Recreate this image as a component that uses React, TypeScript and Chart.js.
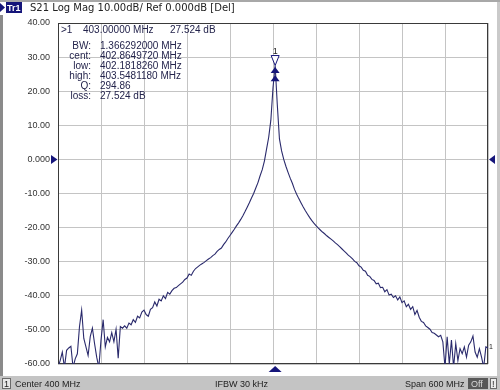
import React, { useEffect, useRef } from "react";
import { Chart, registerables } from "chart.js";

Chart.register(...registerables);

// Sweep definition (instrument settings)
const START_MHZ = 100;
const STOP_MHZ = 700;
const STEP_MHZ = 3;

// S21 trace, dB, one value per sweep point (201 points)
const TRACE_DB = [
  -61, -59, -56.5, -61, -56, -55.3, -54.8, -61, -58.5, -57,
  -49, -44.2, -52.5, -55, -57.5, -52, -49.5, -54, -58, -61,
  -53, -47, -55, -52.2, -53.5, -50.8, -53.5, -49.8, -58.3, -49,
  -49.5, -48.8, -49.5, -48, -48.5, -47, -47.8, -46, -46.5, -44.8,
  -44.2, -45.5, -46, -44, -43.5, -41.8, -43, -41, -41.5, -40,
  -40.8, -39, -39.5, -38.5, -37.8, -37.6, -37, -36.5, -36, -35.2,
  -34.8, -33.6, -34, -32.8, -32, -31.5, -31, -30.6, -30.2, -29.7,
  -29.2, -28.8, -28.2, -27.8, -27, -26.4, -26, -25, -24.2, -23.2,
  -22.3, -21.4, -20.5, -19.5, -18.6, -17.6, -16.5, -15.3, -14, -12.7,
  -11.3, -10, -8.4, -6.8, -4.8, -3, -0.5, 3, 6.5, 11.5,
  21, 27.524, 16, 6, 2.5, 0, -2, -3.8, -5.5, -7,
  -8.8, -10.2, -11.5, -12.7, -13.9, -15, -16, -17, -17.9, -18.7,
  -19.4, -20.1, -20.7, -21.3, -21.8, -22.4, -22.9, -23.4, -23.9, -24.5,
  -25, -25.6, -26.2, -26.8, -27.4, -28.1, -28.6, -29.2, -29.9, -30.3,
  -31.2, -31.6, -32.5, -32.8, -34, -34.3, -35.2, -35.5, -36.5, -36.3,
  -37.6, -37.5, -38.8, -38.2, -39.8, -39.5, -40.5, -40, -41.2, -40.3,
  -42, -41.5, -43.2, -42.5, -44, -43.2, -45.5, -44.3, -46.3, -47.5,
  -47.8, -48.8, -49.3, -49.8, -50.8, -51, -51.5, -52, -51.6, -53.5,
  -61, -52, -60, -53, -61, -54, -59, -55.5, -57, -55,
  -58, -54.5, -53.5, -51.8, -56.5, -58, -55.5, -58, -61, -55,
  -55.3,
];

// Scale
const Y_MIN = -60;
const Y_MAX = 40;
const Y_STEP = 10;
const X_STEP = 60;
const REF_DB = 0;

// Markers
const MARKER_FREQ = 403;
const MARKER_DB = 27.524;
const BW_MARKER_DB = [27.1, 24.7];

// Texts
const HEADER_TAG = "Tr1";
const HEADER_TEXT = "S21 Log Mag 10.00dB/ Ref 0.000dB [Del]";
const MARKER_READOUT = [">1", "403.00000 MHz", "27.524 dB"];
const READOUT_LABELS = ["BW:", "cent:", "low:", "high:", "Q:", "loss:"];
const READOUT_VALUES = [
  "1.366292000 MHz",
  "402.8649720 MHz",
  "402.1818260 MHz",
  "403.5481180 MHz",
  "294.86",
  "27.524 dB",
];
const STATUS_LEFT = "Center 400 MHz";
const STATUS_MID = "IFBW 30 kHz";
const STATUS_RIGHT = "Span 600 MHz";

const NAVY = "#15157a";
const TRACE_COLOR = "#2a2a6c";
const FONT = "'Liberation Sans', Arial, sans-serif";
const HEADER_FONT = "'DejaVu Sans', Verdana, sans-serif";

function tri(ctx: CanvasRenderingContext2D, pts: number[][], fill: string | null, stroke?: string) {
  ctx.beginPath();
  ctx.moveTo(pts[0][0], pts[0][1]);
  for (let i = 1; i < pts.length; i++) ctx.lineTo(pts[i][0], pts[i][1]);
  ctx.closePath();
  if (fill) {
    ctx.fillStyle = fill;
    ctx.fill();
  }
  if (stroke) {
    ctx.strokeStyle = stroke;
    ctx.lineWidth = 1;
    ctx.stroke();
  }
}

const screenPlugin = {
  id: "screen",
  beforeDraw(chart: any) {
    const { ctx, width, height } = chart;
    ctx.save();
    ctx.fillStyle = "#ffffff";
    ctx.fillRect(0, 0, width, height);
    ctx.fillStyle = "#a8a8a8";
    ctx.fillRect(0, 0, width, 2);
    ctx.fillStyle = "#8a8a8a";
    ctx.fillRect(0, 15, 3, 361);
    ctx.fillStyle = "#cacaca";
    ctx.fillRect(width - 3, 2, 3, 374);
    ctx.restore();
  },
  beforeDatasetsDraw(chart: any) {
    const { ctx, chartArea } = chart;
    ctx.save();
    ctx.strokeStyle = "#3a3a3a";
    ctx.lineWidth = 1;
    ctx.strokeRect(
      Math.round(chartArea.left) + 0.5,
      Math.round(chartArea.top) + 0.5,
      Math.round(chartArea.right - chartArea.left) - 1,
      Math.round(chartArea.bottom - chartArea.top) - 1
    );
    ctx.restore();
  },
  afterDraw(chart: any) {
    const { ctx, chartArea, width } = chart;
    const xs = chart.scales.x;
    const ys = chart.scales.y;
    ctx.save();

    // Header
    tri(ctx, [[0, 3], [5, 7.5], [0, 12]], NAVY);
    ctx.fillStyle = NAVY;
    ctx.fillRect(6, 2, 16, 11);
    ctx.font = `bold 9px ${FONT}`;
    ctx.fillStyle = "#ffffff";
    ctx.textBaseline = "alphabetic";
    ctx.textAlign = "left";
    ctx.fillText(HEADER_TAG, 7, 11);
    ctx.font = `10px ${HEADER_FONT}`;
    ctx.fillStyle = "#222222";
    ctx.fillText(HEADER_TEXT, 30, 11);

    // Marker readout
    ctx.fillStyle = "#24244c";
    ctx.font = `10px ${FONT}`;
    const top = chartArea.top;
    ctx.fillText(MARKER_READOUT[0], 61, top + 10);
    ctx.fillText(MARKER_READOUT[1], 83, top + 10);
    ctx.fillText(MARKER_READOUT[2], 170, top + 10);
    READOUT_LABELS.forEach((lab, i) => {
      const yb = top + 26 + i * 10;
      ctx.textAlign = "right";
      ctx.fillText(lab, 91, yb);
      ctx.textAlign = "left";
      ctx.fillText(READOUT_VALUES[i], 100, yb);
    });

    // Marker 1 (hollow down triangle) with label
    const mx = xs.getPixelForValue(MARKER_FREQ);
    const my = ys.getPixelForValue(MARKER_DB);
    tri(ctx, [[mx - 4, my - 10], [mx + 4, my - 10], [mx, my]], "#ffffff", NAVY);
    ctx.fillStyle = "#222";
    ctx.font = `9px ${FONT}`;
    ctx.textAlign = "center";
    ctx.fillText("1", mx, my - 12);
    // BW markers
    BW_MARKER_DB.forEach((v) => {
      const ty = ys.getPixelForValue(v);
      tri(ctx, [[mx, ty], [mx - 4.5, ty + 6], [mx + 4.5, ty + 6]], NAVY);
    });
    // Stimulus indicator at bottom
    const b = chartArea.bottom;
    tri(ctx, [[mx, b + 2], [mx - 6.5, b + 8], [mx + 6.5, b + 8]], NAVY);

    // Reference level indicators
    const ry = ys.getPixelForValue(REF_DB);
    tri(ctx, [[51, ry - 4.5], [57.5, ry], [51, ry + 4.5]], NAVY);
    tri(ctx, [[chartArea.right + 1, ry], [chartArea.right + 7, ry - 4.5], [chartArea.right + 7, ry + 4.5]], NAVY);

    // small channel marker at trace end
    ctx.font = `7px ${FONT}`;
    ctx.fillStyle = "#222";
    ctx.textAlign = "left";
    ctx.fillText("1", chartArea.right + 1, ys.getPixelForValue(TRACE_DB[TRACE_DB.length - 1]) + 1);

    // Status bar
    const sy = 376;
    ctx.fillStyle = "#c4c4c4";
    ctx.fillRect(0, sy, width, 390 - sy);
    ctx.fillStyle = "#e8e8e8";
    ctx.fillRect(2, sy + 2, 9, 11);
    ctx.strokeStyle = "#6a6a6a";
    ctx.strokeRect(2.5, sy + 2.5, 8, 10);
    ctx.fillStyle = "#222";
    ctx.font = `9px ${FONT}`;
    ctx.textAlign = "left";
    ctx.fillText("1", 4, sy + 11);
    ctx.fillText(STATUS_LEFT, 15, sy + 11);
    ctx.fillText(STATUS_MID, 215, sy + 11);
    ctx.fillText(STATUS_RIGHT, 405, sy + 11);
    ctx.fillStyle = "#585858";
    ctx.fillRect(468, sy + 2, 20, 11);
    ctx.fillStyle = "#d8d8d8";
    ctx.fillText("Off", 471, sy + 11);
    ctx.fillStyle = "#ececec";
    ctx.fillRect(490, sy + 2, 7, 11);
    ctx.strokeStyle = "#6a6a6a";
    ctx.strokeRect(490.5, sy + 2.5, 6, 10);
    ctx.fillStyle = "#222";
    ctx.fillText("!", 492, sy + 11);

    ctx.restore();
  },
};

export default function App() {
  const ref = useRef<HTMLCanvasElement | null>(null);
  useEffect(() => {
    if (!ref.current) return;
    const points = TRACE_DB.map((v, i) => ({ x: START_MHZ + i * STEP_MHZ, y: v }));
    const chart = new Chart(ref.current, {
      type: "line",
      data: {
        datasets: [
          {
            data: points,
            borderColor: TRACE_COLOR,
            borderWidth: 1.1,
            pointRadius: 0,
            tension: 0,
            fill: false,
          },
        ],
      },
      options: {
        animation: false,
        responsive: false,
        maintainAspectRatio: false,
        devicePixelRatio: 1,
        layout: { padding: { left: 0, top: 23, right: 12, bottom: 26 } },
        plugins: { legend: { display: false }, tooltip: { enabled: false } },
        scales: {
          x: {
            type: "linear",
            min: START_MHZ,
            max: STOP_MHZ,
            ticks: { display: false, stepSize: X_STEP },
            grid: { color: "#c4c4c4", lineWidth: 1, drawTicks: false },
            border: { display: false },
            afterFit: (s: any) => {
              s.height = 0;
            },
          },
          y: {
            min: Y_MIN,
            max: Y_MAX,
            ticks: {
              stepSize: Y_STEP,
              color: "#333333",
              padding: 8,
              font: { family: FONT, size: 9 },
              callback: (v: any) => (Number(v) === 0 ? "0.000" : Number(v).toFixed(2)),
            },
            grid: { color: "#c4c4c4", lineWidth: 1, drawTicks: false },
            border: { display: false },
            afterFit: (s: any) => {
              s.width = 58;
            },
          },
        },
      },
      plugins: [screenPlugin],
    });
    return () => chart.destroy();
  }, []);
  return (
    <div style={{ position: "absolute", left: 0, top: 0, width: 500, height: 390 }}>
      <canvas ref={ref} width={500} height={390} style={{ display: "block" }} />
    </div>
  );
}
